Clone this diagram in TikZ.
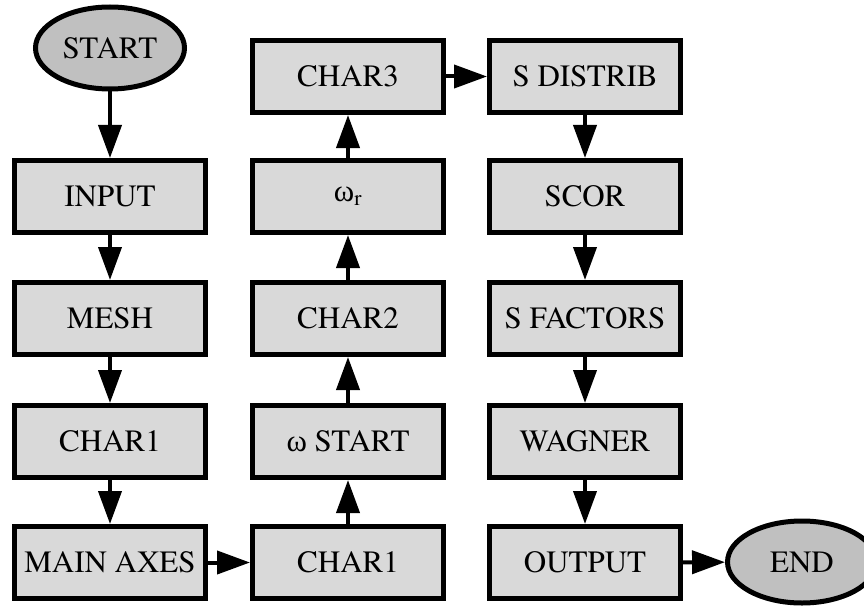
\documentclass[tikz,border=0pt]{standalone}
\usepackage{fontspec}
\setmainfont{texgyretermes}[Extension=.otf, UprightFont=*-regular, BoldFont=*-bold, ItalicFont=*-italic, BoldItalicFont=*-bolditalic]
\newfontfamily\greekfam{Liberation Serif}
\usetikzlibrary{shapes.geometric,arrows.meta}
\definecolor{boxgray}{HTML}{D9D9D9}
\definecolor{ovalgray}{HTML}{C0C0C0}
\begin{document}
\begin{tikzpicture}[x=1pt,y=-1pt,
  procbox/.style={draw=black, fill=boxgray, line width=5pt, rectangle,
    minimum width=191pt, minimum height=72pt, inner sep=0pt,
    font=\fontsize{31}{36}\selectfont},
  termoval/.style={draw=black, fill=ovalgray, line width=5pt, ellipse,
    minimum width=149pt, minimum height=82pt, inner sep=0pt,
    font=\fontsize{31}{36}\selectfont},
  flow/.style={line width=4pt, -{Triangle[length=33pt,width=23pt]}}]
\useasboundingbox (0,0) rectangle (864,607);
% column 1
\node[termoval] (start) at (110,48) {START};
\node[procbox] (input) at (110,196.5) {INPUT};
\node[procbox] (mesh) at (110,318.5) {MESH};
\node[procbox] (chara) at (110,441.5) {CHAR1};
\node[procbox] (axes) at (110,562.5) {MAIN AXES};
% column 2
\node[procbox] (charb) at (348,562.5) {CHAR1};
\node[procbox] (wstart) at (348,441.5) {{\greekfam ω} START};
\node[procbox] (chartwo) at (348,318.5) {CHAR2};
\node[procbox] (wr) at (348,196.5) {{\greekfam ω}\textsubscript{r}};
\node[procbox] (charthree) at (348,76.5) {CHAR3};
% column 3
\node[procbox] (sdist) at (585,76.5) {S DISTRIB};
\node[procbox] (scor) at (585,196.5) {SCOR};
\node[procbox] (sfac) at (585,318.5) {S FACTORS};
\node[procbox] (wagner) at (585,441.5) {WAGNER};
\node[procbox] (output) at (585,562.5) {OUTPUT};
\node[termoval] (end) at (802,562) {END};
% connectors
\draw[flow] (start) -- (input);
\draw[flow] (input) -- (mesh);
\draw[flow] (mesh) -- (chara);
\draw[flow] (chara) -- (axes);
\draw[flow] (axes) -- (charb);
\draw[flow] (charb) -- (wstart);
\draw[flow] (wstart) -- (chartwo);
\draw[flow] (chartwo) -- (wr);
\draw[flow] (wr) -- (charthree);
\draw[flow] (charthree) -- (sdist);
\draw[flow] (sdist) -- (scor);
\draw[flow] (scor) -- (sfac);
\draw[flow] (sfac) -- (wagner);
\draw[flow] (wagner) -- (output);
\draw[flow] (output) -- (end);
\end{tikzpicture}
\end{document}
